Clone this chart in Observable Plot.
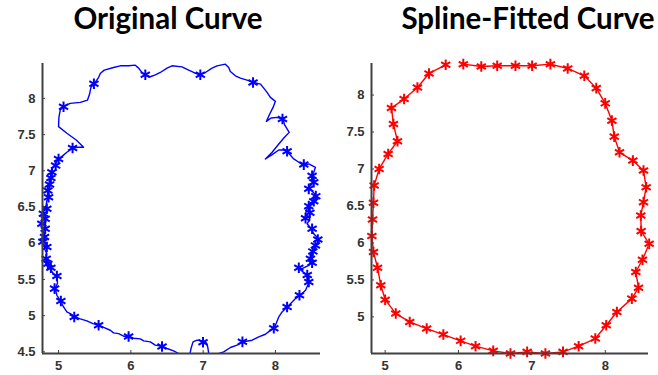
<!DOCTYPE html>
<html>
<head>
<meta charset="utf-8">
<script src="https://cdn.jsdelivr.net/npm/d3@7"></script>
<script src="https://cdn.jsdelivr.net/npm/@observablehq/plot@0.6"></script>
<style>
  html, body { margin: 0; padding: 0; background: #fff; }
  #root { position: relative; width: 658px; height: 375px; overflow: hidden; background: #fff; }
  .title { position: absolute; top: 0px; font-family: Lato, "Open Sans", sans-serif; font-weight: 700;
           font-size: 29.5px; color: #000; white-space: nowrap; line-height: 35.5px; text-align: center; }
  .panel { position: absolute; top: 50px; }
</style>
</head>
<body>
<div id="root">
  <div class="title" id="t1" style="left:58px;width:220px;">Original Curve</div>
  <div class="title" id="t2" style="left:383px;width:290px;">Spline-Fitted Curve</div>
  <div class="panel" id="p1" style="left:0px;"></div>
  <div class="panel" id="p2" style="left:329px;"></div>
</div>
<script>
// ---- Titles ----
const titles = ["Original Curve", "Spline-Fitted Curve"];

// ---- Tick labels ----
const xTicks = [5, 6, 7, 8];
const yTicksLeft = [4.5, 5, 5.5, 6, 6.5, 7, 7.5, 8];
const yTicksRight = [5, 5.5, 6, 6.5, 7, 7.5, 8];

// ---- Original (raw) curve ----
const origX = [6.777, 6.661, 6.592, 6.500, 6.431, 6.338, 6.269, 6.177, 6.131, 6.038,
  5.969, 5.900, 5.831, 5.761, 5.715, 5.632, 5.554, 5.475, 5.392, 5.300,
  5.231, 5.162, 5.115, 5.069, 5.023, 4.977, 4.954, 4.986, 4.977, 4.922,
  4.885, 4.852, 4.829, 4.838, 4.806, 4.815, 4.783, 4.800, 4.769, 4.783,
  4.769, 4.792, 4.783, 4.829, 4.838, 4.875, 4.852, 4.885, 4.875, 4.908,
  4.894, 4.940, 5.000, 5.060, 5.115, 5.198, 5.277, 5.346, 5.245, 5.115,
  5.000, 5.005, 5.023, 5.060, 5.162, 5.300, 5.401, 5.429, 5.448, 5.498,
  5.554, 5.577, 5.632, 5.761, 5.854, 5.969, 6.061, 6.108, 6.154, 6.200,
  6.269, 6.338, 6.407, 6.500, 6.569, 6.707, 6.800, 6.869, 6.952, 7.030,
  7.123, 7.192, 7.307, 7.353, 7.376, 7.446, 7.515, 7.607, 7.700, 7.792,
  7.838, 7.884, 7.930, 7.999, 7.967, 7.921, 7.875, 7.940, 8.023, 8.106,
  8.125, 8.190, 8.116, 8.046, 7.954, 7.861, 7.954, 8.046, 8.138, 8.198,
  8.253, 8.323, 8.392, 8.461, 8.553, 8.530, 8.494, 8.530, 8.461, 8.521,
  8.576, 8.507, 8.448, 8.416, 8.476, 8.438, 8.494, 8.530, 8.613, 8.553,
  8.530, 8.494, 8.507, 8.461, 8.369, 8.323, 8.416, 8.448, 8.461, 8.416,
  8.346, 8.277, 8.217, 8.161, 8.092, 8.046, 8.023, 7.986, 7.921, 7.861,
  7.769, 7.677, 7.552, 7.469, 7.377, 7.284, 7.192, 7.146, 7.077, 7.063,
  7.044, 6.994, 6.915, 6.860, 6.832, 6.814, 6.777];
const origY = [4.440, 4.477, 4.514, 4.546, 4.578, 4.592, 4.638, 4.651, 4.679, 4.688,
  4.716, 4.716, 4.752, 4.762, 4.798, 4.835, 4.867, 4.890, 4.927, 4.955,
  4.982, 5.028, 5.051, 5.120, 5.212, 5.281, 5.373, 5.451, 5.533, 5.588,
  5.648, 5.717, 5.786, 5.855, 5.924, 5.993, 6.062, 6.140, 6.199, 6.268,
  6.337, 6.406, 6.461, 6.521, 6.590, 6.645, 6.728, 6.797, 6.865, 6.934,
  6.994, 7.072, 7.164, 7.210, 7.256, 7.316, 7.325, 7.325, 7.426, 7.518,
  7.610, 7.738, 7.839, 7.885, 7.931, 7.945, 7.977, 8.060, 8.152, 8.207,
  8.289, 8.345, 8.390, 8.427, 8.450, 8.450, 8.459, 8.418, 8.358, 8.326,
  8.299, 8.326, 8.358, 8.418, 8.450, 8.436, 8.390, 8.358, 8.326, 8.358,
  8.418, 8.450, 8.473, 8.427, 8.372, 8.312, 8.280, 8.253, 8.220, 8.198,
  8.142, 8.083, 8.014, 7.959, 7.876, 7.784, 7.683, 7.729, 7.738, 7.715,
  7.637, 7.531, 7.453, 7.371, 7.256, 7.164, 7.224, 7.288, 7.288, 7.224,
  7.164, 7.118, 7.072, 7.095, 7.049, 6.980, 6.911, 6.842, 6.774, 6.705,
  6.636, 6.567, 6.507, 6.406, 6.337, 6.268, 6.199, 6.130, 6.039, 5.970,
  5.901, 5.846, 5.772, 5.694, 5.648, 5.648, 5.579, 5.510, 5.451, 5.350,
  5.281, 5.235, 5.175, 5.120, 5.051, 4.982, 4.927, 4.835, 4.789, 4.743,
  4.706, 4.660, 4.638, 4.592, 4.560, 4.500, 4.468, 4.408, 4.477, 4.569,
  4.624, 4.651, 4.661, 4.638, 4.546, 4.454, 4.440];

// ---- Original curve markers ----
const origMarkX = [6.431, 5.969, 5.554, 5.217, 5.032, 4.945, 4.977, 4.894, 4.829, 4.838,
  4.806, 4.815, 4.815, 4.838, 4.862, 4.875, 4.908, 5.000, 5.194, 5.069,
  5.489, 6.200, 6.961, 7.690, 8.097, 8.161, 8.392, 8.507, 8.461, 8.558,
  8.461, 8.416, 8.507, 8.586, 8.517, 8.484, 8.323, 8.461, 8.332, 8.161,
  7.977, 7.543, 6.998,
  4.852, 4.783, 4.769, 4.790, 4.852, 4.894, 4.960, 8.530, 8.530, 8.476, 8.553, 8.507, 8.440];
const origMarkY = [4.573, 4.711, 4.867, 4.982, 5.203, 5.373, 5.547, 5.662, 5.786, 5.947,
  6.085, 6.199, 6.337, 6.475, 6.636, 6.810, 6.980, 7.164, 7.316, 7.885,
  8.202, 8.326, 8.326, 8.220, 7.715, 7.270, 7.086, 6.930, 6.751, 6.650,
  6.512, 6.346, 6.199, 6.052, 5.887, 5.786, 5.662, 5.464, 5.281, 5.120,
  4.826, 4.638, 4.633,
  5.717, 6.020, 6.268, 6.406, 6.728, 6.900, 7.072, 6.842, 6.580, 6.420, 5.970, 5.730, 5.560];

// ---- Spline-fitted curve (knots) ----
const splineX = [6.065, 6.310, 6.527, 6.776, 7.003, 7.252, 7.488, 7.714, 7.877, 7.999,
  8.090, 8.122, 8.194, 8.376, 8.521, 8.557, 8.521, 8.484, 8.489, 8.598,
  8.507, 8.416, 8.453, 8.362, 8.158, 8.013, 7.864, 7.637, 7.424, 7.184,
  6.935, 6.708, 6.473, 6.232, 6.029, 5.793, 5.566, 5.335, 5.145, 5.000,
  4.941, 4.896, 4.841, 4.819, 4.828, 4.841, 4.850, 4.918, 5.041, 5.168,
  5.113, 5.086, 5.258, 5.440, 5.598, 5.825];
const splineY = [8.418, 8.387, 8.396, 8.396, 8.396, 8.418, 8.360, 8.261, 8.094, 7.888,
  7.654, 7.438, 7.226, 7.114, 6.979, 6.754, 6.552, 6.372, 6.160, 5.989,
  5.773, 5.607, 5.395, 5.247, 5.067, 4.887, 4.707, 4.604, 4.527, 4.505,
  4.527, 4.505, 4.541, 4.604, 4.676, 4.761, 4.842, 4.932, 5.045, 5.233,
  5.427, 5.665, 5.877, 6.093, 6.318, 6.543, 6.776, 7.001, 7.204, 7.375,
  7.609, 7.825, 7.946, 8.103, 8.292, 8.409];

const BLUE = "#0000ff", RED = "#ff0000", AXIS = "#404040", LABEL = "#333333";

function zip(xs, ys) {
  if (xs.length !== ys.length) throw new Error("length mismatch " + xs.length + " vs " + ys.length);
  return xs.map((x, i) => ({x, y: ys[i]}));
}

function panel({curve, marks, color, xDomain, yDomain, yTicks, width, marginLeft, marginRight}) {
  return Plot.plot({
    width, height: 325,
    marginLeft, marginRight, marginTop: 13, marginBottom: 22,
    style: {fontFamily: "'Liberation Sans', Arial, sans-serif", fontSize: "13px", background: "transparent", overflow: "visible"},
    x: {domain: xDomain, ticks: xTicks},
    y: {domain: yDomain, ticks: yTicks},
    marks: [
      Plot.line(curve, {x: "x", y: "y", stroke: color, strokeWidth: 1.4, clip: true}),
      Plot.dot(marks, {x: "x", y: "y", symbol: "asterisk", r: 5, stroke: color, strokeWidth: 2}),
      Plot.axisX({ticks: xTicks, tickSize: -3, tickPadding: 10, stroke: AXIS, fill: LABEL, fontWeight: "bold", fontSize: 13, label: null, tickFormat: d => String(d)}),
      Plot.axisY({ticks: yTicks, tickSize: -3, tickPadding: 10, stroke: AXIS, fill: LABEL, fontWeight: "bold", fontSize: 13, label: null, tickFormat: d => String(d)}),
      Plot.ruleX([xDomain[0]], {stroke: AXIS, strokeWidth: 2}),
      Plot.ruleY([yDomain[0]], {stroke: AXIS, strokeWidth: 2})
    ]
  });
}

const origCurve = zip(origX, origY);
const origMarks = zip(origMarkX, origMarkY);
const spline = zip(splineX, splineY);

document.getElementById("p1").appendChild(panel({
  curve: origCurve, marks: origMarks, color: BLUE,
  xDomain: [4.778, 8.623], yDomain: [4.477, 8.482], yTicks: yTicksLeft,
  width: 330, marginLeft: 42, marginRight: 10
}));
document.getElementById("p2").appendChild(panel({
  curve: spline, marks: spline, color: RED,
  xDomain: [4.814, 8.589], yDomain: [4.505, 8.427], yTicks: yTicksRight,
  width: 329, marginLeft: 42, marginRight: 10
}));
document.getElementById("t1").textContent = titles[0];
document.getElementById("t2").textContent = titles[1];
</script>
</body>
</html>
